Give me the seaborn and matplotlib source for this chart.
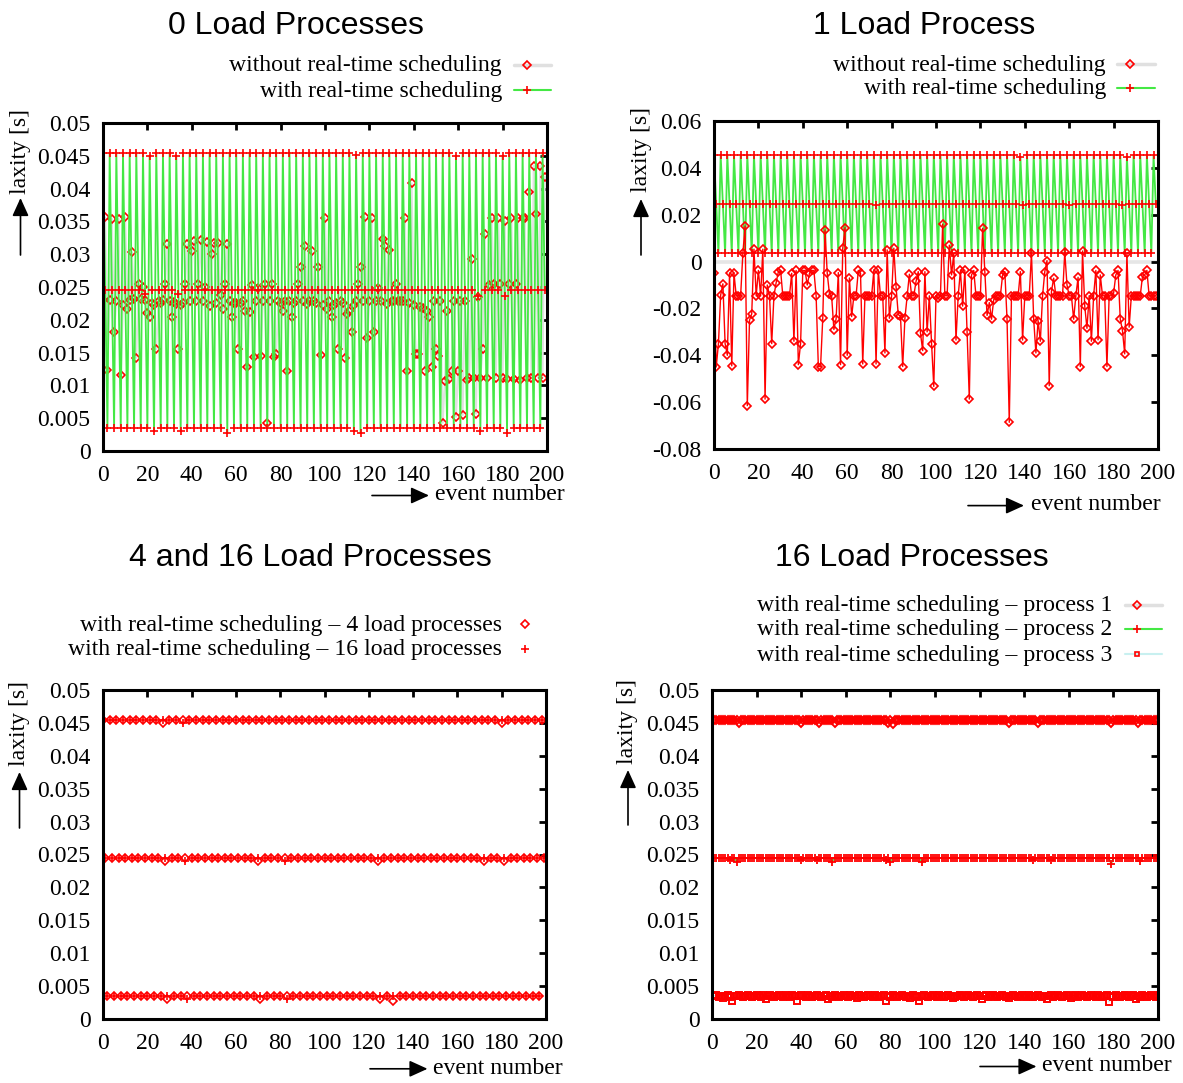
import matplotlib
matplotlib.use("Agg")
import matplotlib.pyplot as plt
from matplotlib.lines import Line2D
from matplotlib.patches import FancyArrowPatch
import seaborn as sns

sns.set_theme(style="white")
plt.rcParams["font.family"] = ["Liberation Serif", "DejaVu Serif"]
plt.rcParams["text.color"] = "black"

# ---------------- data ----------------
titles = ["0 Load Processes", "1 Load Process", "4 and 16 Load Processes", "16 Load Processes"]
x_ticks = [0, 20, 40, 60, 80, 100, 120, 140, 160, 180, 200]
x_tick_labels = ["0", "20", "40", "60", "80", "100", "120", "140", "160", "180", "200"]
y_ticks_pos = [0, 0.005, 0.01, 0.015, 0.02, 0.025, 0.03, 0.035, 0.04, 0.045, 0.05]
y_labels_pos = ["0", "0.005", "0.01", "0.015", "0.02", "0.025", "0.03", "0.035", "0.04", "0.045", "0.05"]
y_ticks_neg = [-0.08, -0.06, -0.04, -0.02, 0, 0.02, 0.04, 0.06]
y_labels_neg = ["-0.08", "-0.06", "-0.04", "-0.02", "0", "0.02", "0.04", "0.06"]

legend_0 = ["without real-time scheduling", "with real-time scheduling"]
legend_2 = ["with real-time scheduling \u2013 4 load processes",
            "with real-time scheduling \u2013 16 load processes"]
legend_3 = ["with real-time scheduling \u2013 process 1",
            "with real-time scheduling \u2013 process 2",
            "with real-time scheduling \u2013 process 3"]

# 0 load processes, without real-time scheduling (events 0..199)
tl_without = [
    0.0230, 0.0356, 0.0124, 0.0230, 0.0354, 0.0182, 0.0228, 0.0354, 0.0116, 0.0222,
    0.0356, 0.0217, 0.0230, 0.0303, 0.0232, 0.0142, 0.0255, 0.0232, 0.0250, 0.0230,
    0.0210, 0.0205, 0.0225, 0.0222, 0.0155, 0.0228, 0.0226, 0.0230, 0.0255, 0.0315,
    0.0228, 0.0205, 0.0227, 0.0224, 0.0155, 0.0223, 0.0225, 0.0255, 0.0315, 0.0228,
    0.0305, 0.0320, 0.0228, 0.0255, 0.0322, 0.0228, 0.0250, 0.0318, 0.0221, 0.0300,
    0.0317, 0.0226, 0.0317, 0.0238, 0.0217, 0.0255, 0.0316, 0.0228, 0.0205, 0.0226,
    0.0225, 0.0155, 0.0226, 0.0228, 0.0213, 0.0128, 0.0212, 0.0253, 0.0143, 0.0228,
    0.0248, 0.0145, 0.0228, 0.0255, 0.0043, 0.0228, 0.0254, 0.0143, 0.0148, 0.0228,
    0.0226, 0.0213, 0.0228, 0.0122, 0.0228, 0.0205, 0.0226, 0.0228, 0.0255, 0.0280,
    0.0228, 0.0313, 0.0224, 0.0228, 0.0305, 0.0228, 0.0226, 0.0280, 0.0146, 0.0222,
    0.0355, 0.0216, 0.0228, 0.0205, 0.0222, 0.0225, 0.0155, 0.0228, 0.0226, 0.0142,
    0.0209, 0.0213, 0.0182, 0.0222, 0.0228, 0.0255, 0.0280, 0.0228, 0.0356, 0.0172,
    0.0228, 0.0355, 0.0182, 0.0228, 0.0249, 0.0228, 0.0323, 0.0313, 0.0224, 0.0306,
    0.0228, 0.0228, 0.0255, 0.0228, 0.0228, 0.0228, 0.0355, 0.0122, 0.0225, 0.0408,
    0.0222, 0.0148, 0.0148, 0.0220, 0.0218, 0.0122, 0.0213, 0.0205, 0.0128, 0.0228,
    0.0155, 0.0145, 0.0228, 0.0043, 0.0107, 0.0213, 0.0109, 0.0122, 0.0228, 0.0052,
    0.0122, 0.0228, 0.0055, 0.0229, 0.0108, 0.0112, 0.0293, 0.0112, 0.0057, 0.0235,
    0.0112, 0.0155, 0.0331, 0.0112, 0.0253, 0.0355, 0.0255, 0.0111, 0.0355, 0.0255,
    0.0112, 0.0350, 0.0109, 0.0254, 0.0355, 0.0110, 0.0254, 0.0355, 0.0108, 0.0355,
    0.0355, 0.0112, 0.0395, 0.0112, 0.0435, 0.0362, 0.0112, 0.0435, 0.0112, 0.0418,
]

# 0 load processes, with real-time scheduling
tl_with = [
    0.0455, 0.0245, 0.0035, 0.0455, 0.0245, 0.0035, 0.0455, 0.0245, 0.0035,
    0.0455, 0.0245, 0.0035, 0.0455, 0.0245, 0.0035, 0.0455, 0.0245, 0.0035,
    0.0455, 0.0240, 0.0035, 0.0450, 0.0245, 0.0030, 0.0455, 0.0245, 0.0035,
    0.0455, 0.0245, 0.0035, 0.0455, 0.0245, 0.0035, 0.0450, 0.0240, 0.0030,
    0.0455, 0.0245, 0.0035, 0.0455, 0.0245, 0.0035, 0.0455, 0.0245, 0.0035,
    0.0455, 0.0245, 0.0035, 0.0455, 0.0245, 0.0035, 0.0455, 0.0245, 0.0035,
    0.0455, 0.0245, 0.0028, 0.0455, 0.0245, 0.0035, 0.0455, 0.0245, 0.0035,
    0.0455, 0.0245, 0.0035, 0.0455, 0.0245, 0.0035, 0.0455, 0.0245, 0.0035,
    0.0455, 0.0245, 0.0035, 0.0455, 0.0245, 0.0035, 0.0455, 0.0245, 0.0035,
    0.0455, 0.0245, 0.0035, 0.0455, 0.0245, 0.0035, 0.0455, 0.0245, 0.0035,
    0.0455, 0.0245, 0.0035, 0.0455, 0.0245, 0.0035, 0.0455, 0.0245, 0.0035,
    0.0455, 0.0245, 0.0035, 0.0455, 0.0245, 0.0035, 0.0455, 0.0245, 0.0035,
    0.0455, 0.0245, 0.0035, 0.0455, 0.0245, 0.0030, 0.0451, 0.0245, 0.0027,
    0.0455, 0.0245, 0.0035, 0.0455, 0.0245, 0.0035, 0.0455, 0.0245, 0.0035,
    0.0455, 0.0245, 0.0035, 0.0455, 0.0245, 0.0035, 0.0455, 0.0245, 0.0035,
    0.0455, 0.0245, 0.0035, 0.0455, 0.0245, 0.0035, 0.0455, 0.0245, 0.0035,
    0.0455, 0.0245, 0.0035, 0.0455, 0.0245, 0.0035, 0.0455, 0.0245, 0.0035,
    0.0455, 0.0245, 0.0035, 0.0455, 0.0245, 0.0035, 0.0450, 0.0245, 0.0035,
    0.0455, 0.0245, 0.0035, 0.0455, 0.0245, 0.0035, 0.0455, 0.0237, 0.0030,
    0.0455, 0.0245, 0.0035, 0.0455, 0.0245, 0.0035, 0.0455, 0.0245, 0.0035,
    0.0450, 0.0237, 0.0028, 0.0455, 0.0245, 0.0035, 0.0455, 0.0245, 0.0035,
    0.0455, 0.0245, 0.0035, 0.0455, 0.0245, 0.0035, 0.0455, 0.0245, 0.0035,
    0.0455, 0.0245,
]

# 1 load process, without real-time scheduling
tr_without = [
    -0.0050, -0.0450, -0.0350, -0.0143, -0.0095, -0.0350, -0.0400, -0.0050, -0.0445, -0.0050,
    -0.0145, -0.0145, -0.0145, 0.0035, 0.0152, -0.0615, -0.0250, -0.0223, 0.0053, -0.0146,
    -0.0038, -0.0146, 0.0053, -0.0587, -0.0100, -0.0146, -0.0350, -0.0146, -0.0090, -0.0043,
    -0.0038, -0.0146, -0.0146, -0.0146, -0.0146, -0.0050, -0.0340, -0.0038, -0.0440, -0.0350,
    -0.0038, -0.0038, -0.0100, -0.0050, -0.0038, -0.0038, -0.0146, -0.0448, -0.0448, -0.0240,
    0.0135, -0.0050, -0.0138, -0.0149, -0.0290, -0.0245, -0.0047, -0.0440, 0.0057, 0.0145,
    -0.0400, -0.0070, -0.0235, -0.0146, -0.0146, -0.0038, -0.0050, -0.0437, -0.0146, -0.0146,
    -0.0146, -0.0146, -0.0038, -0.0437, -0.0038, -0.0146, -0.0146, -0.0390, 0.0050, -0.0242,
    -0.0146, 0.0057, -0.0107, -0.0227, -0.0232, -0.0448, -0.0242, -0.0146, -0.0054, -0.0146,
    -0.0146, -0.0085, -0.0043, -0.0305, -0.0380, -0.0043, -0.0300, -0.0146, -0.0350, -0.0533,
    -0.0146, -0.0156, -0.0146, 0.0160, -0.0146, -0.0146, 0.0070, -0.0057, 0.0035, -0.0335,
    -0.0146, -0.0038, -0.0190, -0.0038, -0.0300, -0.0587, -0.0057, -0.0038, -0.0146, -0.0146,
    -0.0146, 0.0142, -0.0043, -0.0230, -0.0175, -0.0246, -0.0163, -0.0146, -0.0146, -0.0146,
    -0.0057, -0.0043, -0.0246, -0.0686, -0.0146, -0.0146, -0.0146, -0.0146, -0.0043, -0.0335,
    -0.0146, -0.0146, -0.0146, 0.0035, -0.0246, -0.0390, -0.0252, -0.0340, -0.0146, -0.0043,
    0.0004, -0.0530, -0.0128, -0.0071, -0.0146, -0.0146, -0.0146, -0.0146, 0.0040, -0.0100,
    -0.0146, -0.0146, -0.0246, -0.0146, -0.0067, -0.0448, 0.0045, -0.0190, -0.0285, -0.0146,
    -0.0340, -0.0146, -0.0038, -0.0334, -0.0057, -0.0146, -0.0146, -0.0448, -0.0146, -0.0146,
    -0.0135, -0.0057, -0.0038, -0.0246, -0.0295, -0.0394, 0.0036, -0.0280, -0.0146, -0.0146,
    -0.0146, -0.0146, -0.0146, -0.0064, -0.0057, -0.0038, -0.0146, -0.0146, -0.0146, -0.0146,
]

# 1 load process, with real-time scheduling
tr_with = [
    0.0455, 0.0245, 0.0035, 0.0455, 0.0245, 0.0035, 0.0455, 0.0245, 0.0035,
    0.0455, 0.0245, 0.0035, 0.0455, 0.0245, 0.0035, 0.0455, 0.0245, 0.0035,
    0.0455, 0.0245, 0.0035, 0.0455, 0.0245, 0.0035, 0.0455, 0.0245, 0.0035,
    0.0455, 0.0245, 0.0035, 0.0455, 0.0245, 0.0035, 0.0455, 0.0245, 0.0035,
    0.0455, 0.0245, 0.0035, 0.0455, 0.0245, 0.0035, 0.0455, 0.0245, 0.0035,
    0.0455, 0.0245, 0.0035, 0.0455, 0.0245, 0.0035, 0.0455, 0.0245, 0.0035,
    0.0455, 0.0245, 0.0035, 0.0455, 0.0245, 0.0035, 0.0455, 0.0245, 0.0035,
    0.0455, 0.0245, 0.0035, 0.0455, 0.0245, 0.0035, 0.0455, 0.0245, 0.0035,
    0.0455, 0.0243, 0.0035, 0.0455, 0.0245, 0.0035, 0.0455, 0.0245, 0.0035,
    0.0455, 0.0245, 0.0035, 0.0455, 0.0245, 0.0035, 0.0455, 0.0245, 0.0035,
    0.0455, 0.0245, 0.0035, 0.0455, 0.0245, 0.0035, 0.0455, 0.0245, 0.0035,
    0.0455, 0.0245, 0.0035, 0.0455, 0.0245, 0.0035, 0.0455, 0.0245, 0.0035,
    0.0455, 0.0245, 0.0035, 0.0455, 0.0245, 0.0035, 0.0455, 0.0245, 0.0035,
    0.0455, 0.0245, 0.0035, 0.0455, 0.0245, 0.0035, 0.0455, 0.0245, 0.0035,
    0.0455, 0.0245, 0.0035, 0.0455, 0.0245, 0.0035, 0.0455, 0.0245, 0.0035,
    0.0455, 0.0245, 0.0035, 0.0448, 0.0240, 0.0035, 0.0455, 0.0245, 0.0035,
    0.0455, 0.0245, 0.0035, 0.0455, 0.0245, 0.0035, 0.0455, 0.0245, 0.0035,
    0.0455, 0.0245, 0.0035, 0.0455, 0.0245, 0.0035, 0.0455, 0.0240, 0.0035,
    0.0455, 0.0245, 0.0035, 0.0455, 0.0245, 0.0035, 0.0455, 0.0245, 0.0035,
    0.0455, 0.0245, 0.0035, 0.0455, 0.0245, 0.0035, 0.0455, 0.0245, 0.0035,
    0.0455, 0.0245, 0.0035, 0.0455, 0.0240, 0.0035, 0.0448, 0.0245, 0.0035,
    0.0455, 0.0245, 0.0035, 0.0455, 0.0245, 0.0035, 0.0455, 0.0245, 0.0035,
    0.0455, 0.0245,
]

# 4 load processes, with real-time scheduling
bl_four = [
    0.0455, 0.0245, 0.0035, 0.0455, 0.0245, 0.0035, 0.0455, 0.0245, 0.0035,
    0.0455, 0.0245, 0.0035, 0.0455, 0.0245, 0.0035, 0.0455, 0.0245, 0.0035,
    0.0455, 0.0245, 0.0035, 0.0455, 0.0245, 0.0035, 0.0455, 0.0245, 0.0035,
    0.0450, 0.0240, 0.0030, 0.0455, 0.0245, 0.0035, 0.0455, 0.0245, 0.0035,
    0.0455, 0.0245, 0.0035, 0.0455, 0.0245, 0.0035, 0.0455, 0.0245, 0.0035,
    0.0455, 0.0245, 0.0035, 0.0455, 0.0245, 0.0035, 0.0455, 0.0245, 0.0035,
    0.0455, 0.0245, 0.0035, 0.0455, 0.0245, 0.0035, 0.0455, 0.0245, 0.0035,
    0.0455, 0.0245, 0.0035, 0.0455, 0.0245, 0.0035, 0.0455, 0.0240, 0.0030,
    0.0455, 0.0245, 0.0035, 0.0455, 0.0245, 0.0035, 0.0455, 0.0245, 0.0035,
    0.0455, 0.0245, 0.0035, 0.0455, 0.0245, 0.0035, 0.0455, 0.0245, 0.0035,
    0.0455, 0.0245, 0.0035, 0.0455, 0.0245, 0.0035, 0.0455, 0.0245, 0.0035,
    0.0455, 0.0245, 0.0035, 0.0455, 0.0245, 0.0035, 0.0455, 0.0245, 0.0035,
    0.0455, 0.0245, 0.0035, 0.0455, 0.0245, 0.0035, 0.0455, 0.0245, 0.0035,
    0.0455, 0.0245, 0.0035, 0.0455, 0.0245, 0.0035, 0.0455, 0.0240, 0.0030,
    0.0455, 0.0245, 0.0035, 0.0455, 0.0245, 0.0028, 0.0455, 0.0245, 0.0035,
    0.0455, 0.0245, 0.0035, 0.0455, 0.0245, 0.0035, 0.0455, 0.0245, 0.0035,
    0.0455, 0.0245, 0.0035, 0.0455, 0.0245, 0.0035, 0.0455, 0.0245, 0.0035,
    0.0455, 0.0245, 0.0035, 0.0455, 0.0245, 0.0035, 0.0455, 0.0245, 0.0035,
    0.0455, 0.0245, 0.0035, 0.0455, 0.0245, 0.0035, 0.0455, 0.0245, 0.0035,
    0.0455, 0.0240, 0.0035, 0.0455, 0.0245, 0.0035, 0.0455, 0.0245, 0.0035,
    0.0450, 0.0240, 0.0035, 0.0455, 0.0245, 0.0035, 0.0455, 0.0245, 0.0035,
    0.0455, 0.0245, 0.0035, 0.0455, 0.0245, 0.0035, 0.0455, 0.0245, 0.0035,
    0.0455, 0.0245,
]

# 16 load processes, with real-time scheduling
bl_sixteen = [
    0.0455, 0.0245, 0.0035, 0.0455, 0.0245, 0.0035, 0.0455, 0.0245, 0.0035,
    0.0455, 0.0245, 0.0035, 0.0455, 0.0245, 0.0035, 0.0455, 0.0245, 0.0035,
    0.0455, 0.0245, 0.0035, 0.0455, 0.0245, 0.0035, 0.0455, 0.0245, 0.0035,
    0.0455, 0.0245, 0.0035, 0.0455, 0.0245, 0.0035, 0.0455, 0.0245, 0.0035,
    0.0450, 0.0240, 0.0030, 0.0455, 0.0245, 0.0035, 0.0455, 0.0245, 0.0035,
    0.0455, 0.0245, 0.0035, 0.0455, 0.0245, 0.0035, 0.0455, 0.0245, 0.0035,
    0.0455, 0.0245, 0.0035, 0.0455, 0.0245, 0.0035, 0.0455, 0.0245, 0.0035,
    0.0455, 0.0245, 0.0035, 0.0455, 0.0245, 0.0035, 0.0455, 0.0245, 0.0035,
    0.0455, 0.0245, 0.0035, 0.0455, 0.0245, 0.0035, 0.0455, 0.0245, 0.0035,
    0.0455, 0.0240, 0.0030, 0.0455, 0.0245, 0.0035, 0.0455, 0.0245, 0.0035,
    0.0455, 0.0245, 0.0035, 0.0455, 0.0245, 0.0035, 0.0455, 0.0245, 0.0035,
    0.0455, 0.0245, 0.0035, 0.0455, 0.0245, 0.0035, 0.0455, 0.0245, 0.0035,
    0.0455, 0.0245, 0.0035, 0.0455, 0.0245, 0.0035, 0.0455, 0.0245, 0.0035,
    0.0455, 0.0245, 0.0035, 0.0455, 0.0245, 0.0035, 0.0455, 0.0245, 0.0035,
    0.0455, 0.0245, 0.0035, 0.0455, 0.0245, 0.0035, 0.0455, 0.0245, 0.0035,
    0.0455, 0.0245, 0.0035, 0.0455, 0.0245, 0.0035, 0.0455, 0.0245, 0.0035,
    0.0455, 0.0245, 0.0035, 0.0455, 0.0245, 0.0035, 0.0455, 0.0245, 0.0035,
    0.0455, 0.0245, 0.0035, 0.0455, 0.0245, 0.0035, 0.0455, 0.0245, 0.0035,
    0.0455, 0.0245, 0.0035, 0.0455, 0.0245, 0.0035, 0.0455, 0.0245, 0.0035,
    0.0455, 0.0245, 0.0035, 0.0455, 0.0245, 0.0035, 0.0455, 0.0245, 0.0035,
    0.0455, 0.0245, 0.0035, 0.0455, 0.0245, 0.0035, 0.0455, 0.0245, 0.0035,
    0.0455, 0.0245, 0.0035, 0.0455, 0.0245, 0.0035, 0.0455, 0.0245, 0.0035,
    0.0455, 0.0245,
]

# 16 load processes, processes 1-3 (events 1..200)
br_p1 = [
    0.0455, 0.0455, 0.0455, 0.0455, 0.0455, 0.0455, 0.0455, 0.0455, 0.0455, 0.0455,
    0.0455, 0.0450, 0.0455, 0.0455, 0.0455, 0.0455, 0.0455, 0.0455, 0.0455, 0.0455,
    0.0455, 0.0455, 0.0455, 0.0455, 0.0455, 0.0455, 0.0455, 0.0455, 0.0455, 0.0455,
    0.0455, 0.0455, 0.0455, 0.0455, 0.0455, 0.0455, 0.0455, 0.0455, 0.0455, 0.0450,
    0.0455, 0.0455, 0.0455, 0.0455, 0.0455, 0.0455, 0.0455, 0.0450, 0.0455, 0.0455,
    0.0455, 0.0455, 0.0455, 0.0455, 0.0450, 0.0455, 0.0455, 0.0455, 0.0455, 0.0455,
    0.0455, 0.0455, 0.0455, 0.0455, 0.0455, 0.0455, 0.0455, 0.0455, 0.0455, 0.0455,
    0.0455, 0.0455, 0.0455, 0.0455, 0.0455, 0.0455, 0.0455, 0.0455, 0.0450, 0.0455,
    0.0449, 0.0455, 0.0455, 0.0455, 0.0455, 0.0455, 0.0455, 0.0455, 0.0455, 0.0455,
    0.0455, 0.0455, 0.0455, 0.0455, 0.0455, 0.0455, 0.0455, 0.0455, 0.0455, 0.0455,
    0.0455, 0.0455, 0.0455, 0.0455, 0.0455, 0.0455, 0.0455, 0.0455, 0.0455, 0.0455,
    0.0455, 0.0455, 0.0455, 0.0455, 0.0455, 0.0455, 0.0455, 0.0455, 0.0455, 0.0455,
    0.0455, 0.0455, 0.0455, 0.0455, 0.0455, 0.0455, 0.0455, 0.0455, 0.0455, 0.0455,
    0.0455, 0.0455, 0.0450, 0.0455, 0.0455, 0.0455, 0.0455, 0.0455, 0.0455, 0.0455,
    0.0455, 0.0455, 0.0455, 0.0455, 0.0455, 0.0450, 0.0455, 0.0455, 0.0455, 0.0455,
    0.0455, 0.0455, 0.0455, 0.0455, 0.0455, 0.0455, 0.0455, 0.0455, 0.0455, 0.0455,
    0.0455, 0.0455, 0.0455, 0.0455, 0.0455, 0.0455, 0.0455, 0.0455, 0.0455, 0.0455,
    0.0455, 0.0455, 0.0455, 0.0455, 0.0455, 0.0455, 0.0455, 0.0455, 0.0450, 0.0455,
    0.0455, 0.0455, 0.0455, 0.0455, 0.0455, 0.0455, 0.0455, 0.0455, 0.0455, 0.0455,
    0.0450, 0.0455, 0.0455, 0.0455, 0.0455, 0.0455, 0.0455, 0.0455, 0.0455, 0.0455,
]
br_p2 = [
    0.0245, 0.0245, 0.0245, 0.0245, 0.0245, 0.0245, 0.0245, 0.0241, 0.0245, 0.0245,
    0.0239, 0.0245, 0.0245, 0.0245, 0.0245, 0.0245, 0.0245, 0.0245, 0.0245, 0.0245,
    0.0245, 0.0245, 0.0245, 0.0245, 0.0245, 0.0245, 0.0245, 0.0245, 0.0245, 0.0245,
    0.0245, 0.0245, 0.0245, 0.0245, 0.0245, 0.0245, 0.0245, 0.0245, 0.0245, 0.0241,
    0.0245, 0.0245, 0.0245, 0.0245, 0.0245, 0.0245, 0.0241, 0.0245, 0.0245, 0.0245,
    0.0245, 0.0245, 0.0245, 0.0239, 0.0245, 0.0245, 0.0245, 0.0245, 0.0245, 0.0245,
    0.0245, 0.0245, 0.0245, 0.0245, 0.0245, 0.0245, 0.0245, 0.0245, 0.0245, 0.0245,
    0.0245, 0.0245, 0.0245, 0.0245, 0.0245, 0.0245, 0.0245, 0.0241, 0.0245, 0.0238,
    0.0245, 0.0245, 0.0245, 0.0245, 0.0245, 0.0245, 0.0245, 0.0245, 0.0245, 0.0245,
    0.0245, 0.0245, 0.0245, 0.0238, 0.0245, 0.0245, 0.0245, 0.0245, 0.0245, 0.0245,
    0.0245, 0.0245, 0.0245, 0.0245, 0.0245, 0.0245, 0.0245, 0.0245, 0.0245, 0.0245,
    0.0245, 0.0245, 0.0245, 0.0245, 0.0245, 0.0245, 0.0245, 0.0245, 0.0245, 0.0245,
    0.0245, 0.0245, 0.0245, 0.0245, 0.0245, 0.0245, 0.0245, 0.0245, 0.0245, 0.0245,
    0.0245, 0.0245, 0.0245, 0.0245, 0.0245, 0.0245, 0.0245, 0.0245, 0.0245, 0.0245,
    0.0245, 0.0245, 0.0245, 0.0241, 0.0245, 0.0245, 0.0245, 0.0245, 0.0245, 0.0245,
    0.0245, 0.0241, 0.0245, 0.0245, 0.0245, 0.0245, 0.0245, 0.0245, 0.0245, 0.0245,
    0.0245, 0.0245, 0.0245, 0.0245, 0.0245, 0.0245, 0.0245, 0.0245, 0.0245, 0.0245,
    0.0245, 0.0245, 0.0245, 0.0245, 0.0245, 0.0245, 0.0245, 0.0245, 0.0235, 0.0245,
    0.0245, 0.0245, 0.0245, 0.0245, 0.0245, 0.0245, 0.0245, 0.0245, 0.0245, 0.0245,
    0.0245, 0.0240, 0.0245, 0.0245, 0.0245, 0.0245, 0.0245, 0.0245, 0.0245, 0.0245,
]
br_p3 = [
    0.0035, 0.0036, 0.0034, 0.0035, 0.0032, 0.0035, 0.0036, 0.0034, 0.0028, 0.0035,
    0.0035, 0.0036, 0.0035, 0.0034, 0.0035, 0.0036, 0.0035, 0.0034, 0.0035, 0.0036,
    0.0035, 0.0034, 0.0036, 0.0031, 0.0035, 0.0036, 0.0035, 0.0034, 0.0035, 0.0036,
    0.0035, 0.0034, 0.0036, 0.0035, 0.0034, 0.0036, 0.0035, 0.0028, 0.0035, 0.0036,
    0.0035, 0.0034, 0.0036, 0.0035, 0.0034, 0.0035, 0.0036, 0.0035, 0.0034, 0.0035,
    0.0036, 0.0030, 0.0035, 0.0034, 0.0036, 0.0035, 0.0034, 0.0035, 0.0036, 0.0035,
    0.0034, 0.0036, 0.0035, 0.0035, 0.0032, 0.0036, 0.0035, 0.0034, 0.0035, 0.0036,
    0.0035, 0.0034, 0.0036, 0.0035, 0.0034, 0.0035, 0.0036, 0.0028, 0.0035, 0.0034,
    0.0036, 0.0035, 0.0034, 0.0035, 0.0036, 0.0035, 0.0034, 0.0035, 0.0032, 0.0036,
    0.0035, 0.0034, 0.0028, 0.0035, 0.0036, 0.0035, 0.0034, 0.0035, 0.0036, 0.0035,
    0.0034, 0.0036, 0.0035, 0.0034, 0.0035, 0.0036, 0.0035, 0.0032, 0.0034, 0.0035,
    0.0036, 0.0035, 0.0034, 0.0035, 0.0036, 0.0035, 0.0034, 0.0035, 0.0036, 0.0035,
    0.0031, 0.0035, 0.0036, 0.0034, 0.0035, 0.0036, 0.0035, 0.0034, 0.0035, 0.0036,
    0.0035, 0.0034, 0.0032, 0.0035, 0.0036, 0.0035, 0.0034, 0.0035, 0.0036, 0.0035,
    0.0034, 0.0036, 0.0035, 0.0034, 0.0035, 0.0036, 0.0035, 0.0034, 0.0035, 0.0031,
    0.0035, 0.0036, 0.0034, 0.0035, 0.0036, 0.0035, 0.0034, 0.0035, 0.0036, 0.0035,
    0.0032, 0.0035, 0.0036, 0.0034, 0.0035, 0.0036, 0.0035, 0.0034, 0.0035, 0.0036,
    0.0035, 0.0034, 0.0036, 0.0035, 0.0034, 0.0035, 0.0036, 0.0026, 0.0035, 0.0034,
    0.0036, 0.0035, 0.0034, 0.0035, 0.0036, 0.0035, 0.0034, 0.0035, 0.0036, 0.0030,
    0.0035, 0.0034, 0.0036, 0.0035, 0.0034, 0.0035, 0.0036, 0.0035, 0.0034, 0.0036,
]

# ---------------- styling ----------------
W, H = 1183, 1083
RED = "#ff0000"
GREEN = "#44e844"
GRAY = "#e0e0e0"
CYAN = "#c8f0f0"
SERIF = "Liberation Serif"
SANS = "Liberation Sans"
FS = 17.1

fig = plt.figure(figsize=(W / 100, H / 100), dpi=100)


def fx(x):
    return x / W


def fy(y):
    return 1 - y / H


def make_ax(l, t, r, b):
    return fig.add_axes([fx(l), fy(b), (r - l) / W, (b - t) / H])


def draw_line(ax, y, color, lw, x0=0):
    sns.lineplot(x=list(range(x0, x0 + len(y))), y=y, ax=ax, color=color, lw=lw,
                 sort=False, estimator=None, errorbar=None)


def draw_pts(ax, y, marker, ms, x0=0, mew=1.2):
    sns.lineplot(x=list(range(x0, x0 + len(y))), y=y, ax=ax, color=RED, linestyle="none",
                 marker=marker, markersize=ms, markerfacecolor="none",
                 markeredgecolor=RED, markeredgewidth=mew,
                 sort=False, estimator=None, errorbar=None)


def style(ax, ylim, yticks, ylabels):
    ax.set_xlim(0, 200)
    ax.set_ylim(*ylim)
    ax.set_xticks(x_ticks)
    ax.set_xticklabels(x_tick_labels)
    ax.set_yticks(yticks)
    ax.set_yticklabels(ylabels)
    ax.tick_params(direction="in", length=5, width=2, top=True, right=True,
                   labelsize=FS, colors="black")
    ax.tick_params(axis="x", pad=10)
    ax.tick_params(axis="y", pad=9)
    for lab in ax.get_xticklabels() + ax.get_yticklabels():
        lab.set_fontfamily(SERIF)
    for s in ax.spines.values():
        s.set_linewidth(2.2)
        s.set_color("black")
    ax.set_xlabel("")
    ax.set_ylabel("")
    ax.grid(False)


def arrow(x0, y0, x1, y1):
    fig.add_artist(FancyArrowPatch((fx(x0), fy(y0)), (fx(x1), fy(y1)),
                                   transform=fig.transFigure,
                                   arrowstyle="-|>,head_length=1.1,head_width=0.5",
                                   mutation_scale=10, color="black", lw=1.2,
                                   shrinkA=0, shrinkB=0))


def axis_labels(ylab_x, ylab_yc, yarr_tail, yarr_tip, xarr_tail, xarr_tip, xarr_y, xtext_x, xtext_base):
    fig.text(fx(ylab_x), fy(ylab_yc), "laxity [s]", rotation=90, ha="center", va="center",
             fontsize=FS, family=SERIF, color="black")
    arrow(ylab_x, yarr_tail, ylab_x, yarr_tip)
    arrow(xarr_tail, xarr_y, xarr_tip, xarr_y)
    fig.text(fx(xtext_x), fy(xtext_base), "event number", ha="left", va="baseline",
             fontsize=FS, family=SERIF, color="black")


def legend_row(text, x_end, y, x_line0, x_line1, x_mark, line_color, marker, ms, line_lw=1.5):
    fig.text(fx(x_end), fy(y + 6.5), text, ha="right", va="baseline", fontsize=FS,
             family=SERIF, color="black")
    if line_color is not None:
        fig.add_artist(Line2D([fx(x_line0), fx(x_line1)], [fy(y), fy(y)], color=line_color, lw=line_lw))
    fig.add_artist(Line2D([fx(x_mark)], [fy(y)], marker=marker, ms=ms, mfc="none",
                          mec=RED, mew=1.2, ls="none"))


def title(text, xc, base):
    fig.text(fx(xc), fy(base), text, ha="center", va="baseline", fontsize=23, family=SANS,
             color="black")


# ---------------- panel 1: 0 load processes ----------------
ax1 = make_ax(103, 123, 547, 451)
draw_line(ax1, tl_without, GRAY, 1.4)
draw_pts(ax1, tl_without, "D", 3.8)
draw_line(ax1, tl_with, GREEN, 1.3)
draw_pts(ax1, tl_with, "+", 5.5)
style(ax1, (0, 0.05), y_ticks_pos, y_labels_pos)
title(titles[0], 296, 34)
legend_row(legend_0[0], 502, 65, 514, 551, 527, GRAY, "D", 3.8, 2.5)
legend_row(legend_0[1], 502, 90, 514, 551, 527, GREEN, "+", 5.5)
axis_labels(20.5, 151, 255, 198, 372, 429, 495.5, 435, 500)

# ---------------- panel 2: 1 load process ----------------
ax2 = make_ax(714, 121, 1158, 449)
ax2.axhline(0, color="#e6e6e6", lw=2.6, zorder=0)
draw_line(ax2, tr_with, GREEN, 1.3)
draw_pts(ax2, tr_with, "+", 5.5)
draw_line(ax2, tr_without, RED, 1.0)
draw_pts(ax2, tr_without, "D", 3.8)
style(ax2, (-0.08, 0.06), y_ticks_neg, y_labels_neg)
title(titles[1], 924, 34)
legend_row(legend_0[0], 1106, 64, 1117, 1155, 1130, GRAY, "D", 3.8, 2.5)
legend_row(legend_0[1], 1106, 88, 1117, 1155, 1130, GREEN, "+", 5.5)
axis_labels(641, 150, 255, 199, 968, 1024, 505.6, 1031, 510)

# ---------------- panel 3: 4 and 16 load processes ----------------
ax3 = make_ax(103, 690, 546, 1019)
draw_pts(ax3, bl_four, "D", 3.8)
draw_pts(ax3, bl_sixteen, "+", 5.5)
style(ax3, (0, 0.05), y_ticks_pos, y_labels_pos)
title(titles[2], 310, 566)
legend_row(legend_2[0], 502, 624, 0, 0, 525, None, "D", 3.8)
legend_row(legend_2[1], 502, 648.5, 0, 0, 525, None, "+", 5.5)
axis_labels(19.5, 724, 828, 772, 370, 427.5, 1068.8, 433, 1074)

# ---------------- panel 4: 16 load processes ----------------
ax4 = make_ax(712, 690, 1158, 1019)
draw_line(ax4, br_p1, GRAY, 1.0, x0=1)
draw_pts(ax4, br_p1, "D", 4.2, x0=1, mew=1.4)
draw_line(ax4, br_p2, GREEN, 1.0, x0=1)
draw_pts(ax4, br_p2, "+", 6.0, x0=1, mew=1.3)
draw_line(ax4, br_p3, CYAN, 1.0, x0=1)
draw_pts(ax4, br_p3, "s", 4.2, x0=1, mew=1.4)
style(ax4, (0, 0.05), y_ticks_pos, y_labels_pos)
title(titles[3], 912, 566)
legend_row(legend_3[0], 1112, 605, 1125, 1162, 1137, GRAY, "D", 3.8, 2.5)
legend_row(legend_3[1], 1112, 629, 1125, 1162, 1137, GREEN, "+", 5.5)
legend_row(legend_3[2], 1112, 654, 1125, 1162, 1137, CYAN, "s", 3.4)
axis_labels(628, 721, 825, 770, 980, 1036.5, 1066.5, 1042.5, 1071)

fig.savefig("out.png", dpi=100)
